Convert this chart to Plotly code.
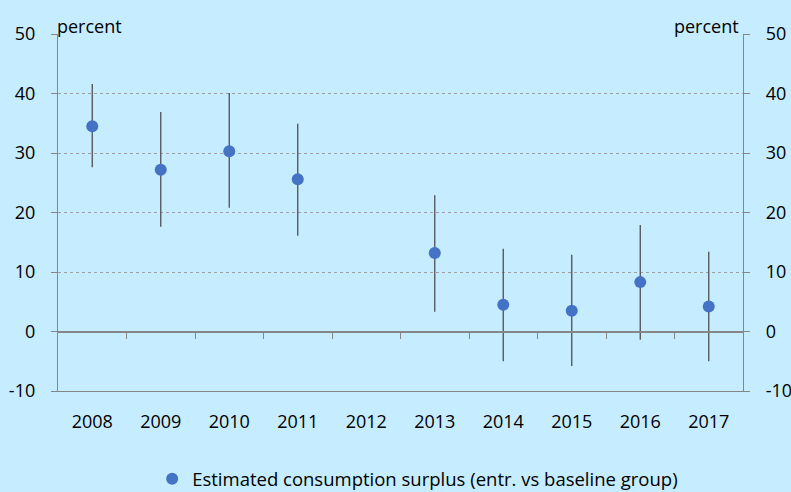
import plotly.graph_objects as go

years = ["2008", "2009", "2010", "2011", "2012", "2013", "2014", "2015", "2016", "2017"]
estimate = [34.5, 27.2, 30.3, 25.6, None, 13.2, 4.5, 3.5, 8.3, 4.2]
upper = [41.6, 36.9, 40.1, 34.9, None, 22.9, 13.9, 12.9, 17.9, 13.4]
lower = [27.6, 17.6, 20.8, 16.1, None, 3.3, -5.0, -5.8, -1.4, -5.0]
y_ticks = [-10, 0, 10, 20, 30, 40, 50]
y_tick_labels = ["-10", "0", "10", "20", "30", "40", "50"]
grid_ticks = [10, 20, 30, 40, 50]
series_name = "Estimated consumption surplus (entr. vs baseline group)"

idx = list(range(len(years)))
err_plus = [None if e is None else u - e for e, u in zip(estimate, upper)]
err_minus = [None if e is None else e - l for e, l in zip(estimate, lower)]

BG = "rgb(198,236,255)"
AX = "rgb(134,134,134)"
FONT = "Open Sans, Liberation Sans, sans-serif"

fig = go.Figure()
fig.add_trace(go.Scatter(
    x=idx, y=estimate, mode="markers", name=series_name,
    marker=dict(size=12, color="rgb(68,114,196)"),
    error_y=dict(type="data", symmetric=False, array=err_plus, arrayminus=err_minus,
                 color="rgb(80,80,80)", thickness=1.3, width=0),
))
# overlay-axis carrier trace (gridlines only at positive ticks, solid zero axis with boundary ticks)
fig.add_trace(go.Scatter(x=[None], y=[None], xaxis="x2", yaxis="y2", showlegend=False, hoverinfo="skip"))
fig.add_trace(go.Scatter(x=[None], y=[None], xaxis="x3", yaxis="y3", showlegend=False, hoverinfo="skip"))

fig.update_layout(
    width=791, height=492,
    paper_bgcolor=BG, plot_bgcolor=BG,
    margin=dict(l=58, r=48, t=34, b=101, autoexpand=False),
    font=dict(family=FONT, size=18, color="black"),
    showlegend=True,
    legend=dict(orientation="h", x=0.528, xanchor="center", xref="container",
                y=0.026, yanchor="middle", yref="container",
                font=dict(size=18.5), bgcolor="rgba(0,0,0,0)"),
    xaxis=dict(range=[-0.5, len(years) - 0.5], tickmode="array", tickvals=idx, ticktext=years,
               showgrid=False, zeroline=False, showline=True, linecolor=AX, linewidth=1.3,
               ticks="", ticklabelstandoff=14, tickfont=dict(size=18), automargin=False),
    xaxis2=dict(range=[-0.5, len(years) - 0.5], overlaying="x", anchor="free", position=1/6,
                tickmode="array", tickvals=[i + 0.5 for i in idx[:-1]],
                ticks="outside", ticklen=7, tickcolor=AX, tickwidth=1.3,
                showticklabels=False, showgrid=False, zeroline=False,
                showline=True, linecolor=AX, linewidth=1.6, automargin=False),
    xaxis3=dict(range=[-0.5, len(years) - 0.5], overlaying="x", visible=False),
    yaxis=dict(range=[-10, 50], tickmode="array", tickvals=y_ticks, ticktext=y_tick_labels,
               showgrid=False,
               zeroline=False, showline=True, linecolor=AX, linewidth=1.3,
               ticks="outside", ticklen=6, tickcolor=AX, tickfont=dict(size=18),
               ticklabelstandoff=12, automargin=False),
    yaxis2=dict(range=[-10, 50], tickmode="array", tickvals=y_ticks, ticktext=y_tick_labels,
                overlaying="y", side="right",
                showgrid=False, zeroline=False, showline=True, linecolor=AX, linewidth=1.3,
                ticks="outside", ticklen=6, tickcolor=AX, tickfont=dict(size=18),
                ticklabelstandoff=12, automargin=False),
    yaxis3=dict(range=[-10, 50], overlaying="y", tickmode="array", tickvals=grid_ticks,
                showgrid=True, gridcolor="rgb(160,160,160)", griddash="dot", gridwidth=1,
                showticklabels=False, ticks="", zeroline=False, showline=False),
    annotations=[
        dict(text="percent", xref="paper", yref="paper", x=0, y=1, xanchor="left", yanchor="bottom",
             showarrow=False, font=dict(size=18), yshift=-6, xshift=-3),
        dict(text="percent", xref="paper", yref="paper", x=1, y=1, xanchor="right", yanchor="bottom",
             showarrow=False, font=dict(size=18), yshift=-6, xshift=-2),
    ],
)

fig.write_html("out.html", config={"displayModeBar": False},
               post_script="document.body.style.margin='0';")
